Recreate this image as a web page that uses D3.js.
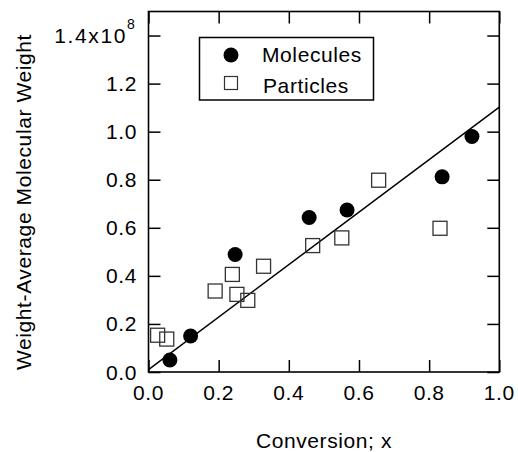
<!DOCTYPE html>
<html>
<head>
<meta charset="utf-8">
<script src="https://cdn.jsdelivr.net/npm/d3@7"></script>
<style>
  body { margin: 0; background: #fff; }
  svg text { font-family: "Liberation Sans", Arial, sans-serif; fill: #000; }
</style>
</head>
<body>
<svg id="chart" width="518" height="452"></svg>
<script>
// molecules (filled circles)
var molX = [0.061, 0.120, 0.247, 0.458, 0.566, 0.837, 0.922];
var molY = [0.050, 0.150, 0.489, 0.643, 0.674, 0.812, 0.980];

// particles (open squares)
var parX = [0.026, 0.052, 0.190, 0.239, 0.252, 0.283, 0.328, 0.468, 0.551, 0.656, 0.831];
var parY = [0.153, 0.137, 0.337, 0.406, 0.323, 0.298, 0.440, 0.526, 0.558, 0.798, 0.598];

// fitted line
var fitX = [0.0, 1.0];
var fitY = [0.01, 1.102];

var xTicks = [0.0, 0.2, 0.4, 0.6, 0.8, 1.0];
var yTicks = [0.0, 0.2, 0.4, 0.6, 0.8, 1.0, 1.2, 1.4];

var svg = d3.select("#chart");

var margin = {left: 148.5, right: 499.3, top: 11.5, bottom: 372};

var x = d3.scaleLinear()
    .domain([0, 1])
    .range([margin.left, margin.right]);

var y = d3.scaleLinear()
    .domain([0, 1.5])
    .range([margin.bottom, margin.top]);

var tickLen = 12;
var fontSize = 21;
var spacing = "0.6px";

// axes with inward ticks on all four sides
var bottomAxis = d3.axisTop(x).tickValues(xTicks).tickSize(tickLen).tickFormat("");
var topAxis = d3.axisBottom(x).tickValues(xTicks).tickSize(tickLen).tickFormat("");
var leftAxis = d3.axisRight(y).tickValues(yTicks).tickSize(tickLen).tickFormat("");
var rightAxis = d3.axisLeft(y).tickValues(yTicks).tickSize(tickLen).tickFormat("");

svg.append("g").attr("transform", "translate(0," + margin.bottom + ")").call(bottomAxis);
svg.append("g").attr("transform", "translate(0," + margin.top + ")").call(topAxis);
svg.append("g").attr("transform", "translate(" + margin.left + ",0)").call(leftAxis);
svg.append("g").attr("transform", "translate(" + margin.right + ",0)").call(rightAxis);

svg.selectAll(".domain").remove();
svg.selectAll(".tick line").attr("stroke", "#000").attr("stroke-width", 1.5);

svg.append("rect")
    .attr("x", margin.left)
    .attr("y", margin.top)
    .attr("width", margin.right - margin.left)
    .attr("height", margin.bottom - margin.top)
    .attr("fill", "none")
    .attr("stroke", "#000")
    .attr("stroke-width", 1.6);

// tick labels
svg.selectAll(".xlab")
    .data(xTicks)
    .enter().append("text")
    .attr("class", "xlab")
    .attr("x", function(d) { return x(d); })
    .attr("y", 399.5)
    .attr("text-anchor", "middle")
    .style("font-size", fontSize + "px")
    .style("letter-spacing", spacing)
    .text(function(d) { return d.toFixed(1); });

svg.selectAll(".ylab")
    .data(yTicks)
    .enter().append("text")
    .attr("class", "ylab")
    .attr("x", function(d) { return d === 1.4 ? 127 : 137; })
    .attr("y", function(d) { return y(d); })
    .attr("dy", "0.36em")
    .attr("text-anchor", "end")
    .style("font-size", fontSize + "px")
    .style("letter-spacing", function(d) { return d === 1.4 ? "1.6px" : spacing; })
    .text(function(d) { return d === 1.4 ? "1.4x10" : d.toFixed(1); });

svg.append("text")
    .attr("x", 127)
    .attr("y", y(1.4) - 7)
    .style("font-size", "14px")
    .text("8");

// axis titles
svg.append("text")
    .attr("x", 324)
    .attr("y", 448)
    .attr("text-anchor", "middle")
    .style("font-size", fontSize + "px")
    .style("letter-spacing", spacing)
    .text("Conversion; x");

svg.append("text")
    .attr("transform", "translate(31,202) rotate(-90)")
    .attr("text-anchor", "middle")
    .style("font-size", fontSize + "px")
    .style("letter-spacing", spacing)
    .text("Weight-Average Molecular Weight");

// fit line
var fit = fitX.map(function(d, i) { return [d, fitY[i]]; });
svg.append("path")
    .datum(fit)
    .attr("d", d3.line().x(function(d) { return x(d[0]); }).y(function(d) { return y(d[1]); }))
    .attr("fill", "none")
    .attr("stroke", "#000")
    .attr("stroke-width", 1.5);

// particles
var sq = 14;
svg.selectAll(".par")
    .data(parX)
    .enter().append("rect")
    .attr("class", "par")
    .attr("x", function(d) { return x(d) - sq / 2; })
    .attr("y", function(d, i) { return y(parY[i]) - sq / 2; })
    .attr("width", sq)
    .attr("height", sq)
    .attr("fill", "none")
    .attr("stroke", "#333")
    .attr("stroke-width", 1.3);

// molecules
svg.selectAll(".mol")
    .data(molX)
    .enter().append("circle")
    .attr("class", "mol")
    .attr("cx", function(d) { return x(d); })
    .attr("cy", function(d, i) { return y(molY[i]); })
    .attr("r", 7.5)
    .attr("fill", "#000");

// legend
var legend = svg.append("g");
legend.append("rect")
    .attr("x", 199.5)
    .attr("y", 37.5)
    .attr("width", 174)
    .attr("height", 62.5)
    .attr("fill", "#fff")
    .attr("stroke", "#000")
    .attr("stroke-width", 1.5);
legend.append("circle")
    .attr("cx", 231)
    .attr("cy", 55)
    .attr("r", 7.5)
    .attr("fill", "#000");
legend.append("rect")
    .attr("x", 231 - 6.5)
    .attr("y", 83 - 6.5)
    .attr("width", 13)
    .attr("height", 13)
    .attr("fill", "none")
    .attr("stroke", "#333")
    .attr("stroke-width", 1.2);
legend.append("text")
    .attr("x", 262)
    .attr("y", 61.5)
    .style("font-size", fontSize + "px")
    .style("letter-spacing", spacing)
    .text("Molecules");
legend.append("text")
    .attr("x", 263)
    .attr("y", 92.5)
    .style("font-size", fontSize + "px")
    .style("letter-spacing", spacing)
    .text("Particles");
</script>
</body>
</html>
